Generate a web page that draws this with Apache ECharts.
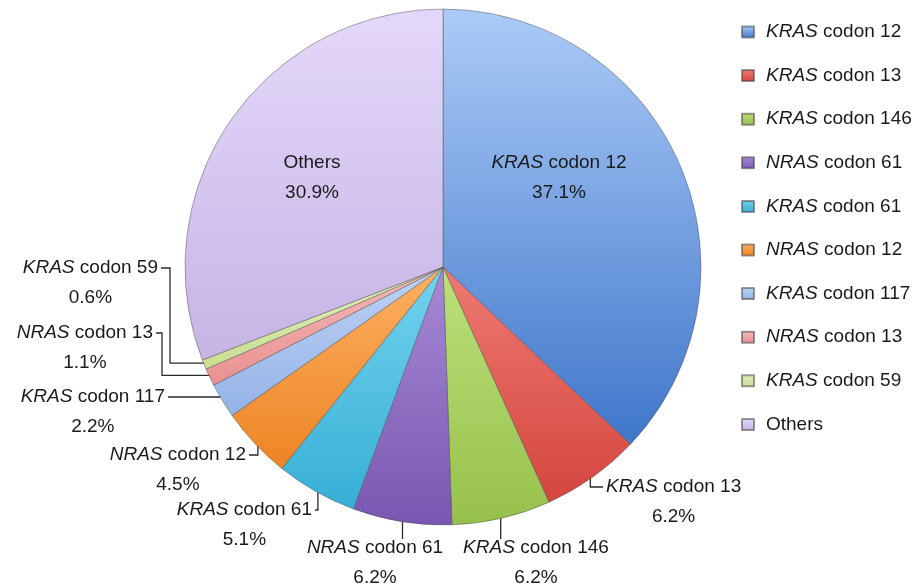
<!DOCTYPE html>
<html>
<head>
<meta charset="utf-8">
<script src="https://cdn.jsdelivr.net/npm/echarts@6/dist/echarts.min.js"></script>
<style>
html,body{margin:0;padding:0;background:#fff;}
#chart{width:922px;height:588px;}
</style>
</head>
<body>
<div id="chart"></div>
<script>
// ---- data ----
const genes   = ['KRAS', 'KRAS', 'KRAS', 'NRAS', 'KRAS', 'NRAS', 'KRAS', 'NRAS', 'KRAS', ''];
const codons  = ['codon 12', 'codon 13', 'codon 146', 'codon 61', 'codon 61', 'codon 12', 'codon 117', 'codon 13', 'codon 59', 'Others'];
const values  = [37.1, 6.2, 6.2, 6.2, 5.1, 4.5, 2.2, 1.1, 0.6, 30.9];
const categories = genes.map((g, i) => g ? g + ' ' + codons[i] : codons[i]);

// ---- style / layout ----
const colorsTop    = ['#accbf7', '#ee7a72', '#bde07a', '#a68ad6', '#74d3ee', '#fdb062', '#bed4f6', '#f6baba', '#e3f0be', '#e4d8fa'];
const colorsBottom = ['#3f76ca', '#d4463e', '#96c04c', '#7a56b0', '#36aed5', '#ee8424', '#93b2e6', '#e89090', '#c8dd90', '#c6b4e5'];
const CX = 443, CY = 267, R = 258;
const FONT = '"Liberation Sans", Arial, Helvetica, sans-serif';
const LH = 30;
// text placement (line-1 centre y, anchor x, alignment) and leader routing
const labelSpots = [
  { x: 559, y: 163, align: 'center', route: null },
  { x: 606, y: 487, align: 'left',   route: 'vh' },
  { x: 536, y: 548, align: 'center', route: 'v' },
  { x: 375, y: 548, align: 'center', route: 'v' },
  { x: 312, y: 510, align: 'right',  route: 'vh' },
  { x: 246, y: 455, align: 'right',  route: 'vh' },
  { x: 165, y: 397, align: 'right',  route: 'vh' },
  { x: 153, y: 333, align: 'right',  route: 'hvh', col: 162 },
  { x: 158, y: 268, align: 'right',  route: 'hvh', col: 170 },
  { x: 312, y: 163, align: 'center', route: null }
];

const total = values.reduce((a, b) => a + b, 0);
let cum = 0;
const anchors = values.map(v => {
  const mid = (cum + v / 2) / total * Math.PI * 2;
  cum += v;
  return [CX + 0.985 * R * Math.sin(mid), CY - 0.985 * R * Math.cos(mid)];
});

function fmtName(i) {
  return genes[i] ? '{g|' + genes[i] + '}{c| ' + codons[i] + '}' : '{c|' + codons[i] + '}';
}

const data = values.map((v, i) => ({
  name: categories[i],
  value: v,
  itemStyle: {
    color: {
      type: 'linear', x: 0, y: 0, x2: 0, y2: 1,
      colorStops: [{ offset: 0, color: colorsTop[i] }, { offset: 1, color: colorsBottom[i] }]
    }
  },
  labelLine: { show: !!labelSpots[i].route }
}));

const richStyles = {
  g: { fontStyle: 'italic', fontSize: 19, fontFamily: FONT, color: '#1a1a1a', lineHeight: LH },
  c: { fontSize: 19, fontFamily: FONT, color: '#1a1a1a', lineHeight: LH },
  p: { fontSize: 19, fontFamily: FONT, color: '#1a1a1a', lineHeight: LH }
};

const chart = echarts.init(document.getElementById('chart'), null, { renderer: 'canvas' });
chart.setOption({
  backgroundColor: '#ffffff',
  animation: false,
  legend: {
    orient: 'vertical',
    left: 736,
    top: 17,
    itemWidth: 12,
    itemHeight: 11,
    itemGap: 23.6,
    icon: 'rect',
    data: categories,
    formatter: function (name) {
      const i = categories.indexOf(name);
      return fmtName(i);
    },
    textStyle: {
      fontFamily: FONT,
      fontSize: 19,
      color: '#1a1a1a',
      lineHeight: 20,
      padding: [0, 0, 0, 7],
      rich: {
        g: { fontStyle: 'italic', fontSize: 19, fontFamily: FONT, color: '#1a1a1a', lineHeight: 20 },
        c: { fontSize: 19, fontFamily: FONT, color: '#1a1a1a', lineHeight: 20 }
      }
    }
  },
  series: [{
    type: 'pie',
    center: [CX, CY],
    radius: R,
    startAngle: 90,
    clockwise: true,
    avoidLabelOverlap: false,
    data: data,
    itemStyle: { borderColor: 'rgba(70,70,70,0.55)', borderWidth: 0.8 },
    label: {
      show: true,
      position: 'outside',
      formatter: function (p) {
        return fmtName(p.dataIndex) + '\n{p|' + values[p.dataIndex].toFixed(1) + '%}';
      },
      rich: richStyles,
      align: 'center'
    },
    labelLine: { show: true, lineStyle: { color: '#2a2a2a', width: 1.3 }, length: 10, length2: 10 },
    labelLayout: function (p) {
      const i = p.dataIndex;
      const s = labelSpots[i];
      const w = p.labelRect.width;
      let cx = s.x;
      if (s.align === 'left') cx = s.x + w / 2;
      else if (s.align === 'right') cx = s.x - w / 2;
      const out = { x: cx, y: s.y - LH / 2, align: 'center', verticalAlign: 'top' };
      const A = anchors[i];
      if (s.route === 'vh') {
        const ex = s.align === 'left' ? s.x - 3 : s.x + 3;
        out.labelLinePoints = [[A[0], A[1]], [A[0], s.y], [ex, s.y]];
      } else if (s.route === 'v') {
        out.labelLinePoints = [[A[0], A[1]], [A[0], (A[1] + s.y - 9) / 2], [A[0], s.y - 9]];
      } else if (s.route === 'hvh') {
        out.labelLinePoints = [[A[0], A[1]], [s.col, A[1]], [s.col, s.y], [s.x + 3, s.y]];
      }
      return out;
    }
  }]
});
</script>
</body>
</html>
